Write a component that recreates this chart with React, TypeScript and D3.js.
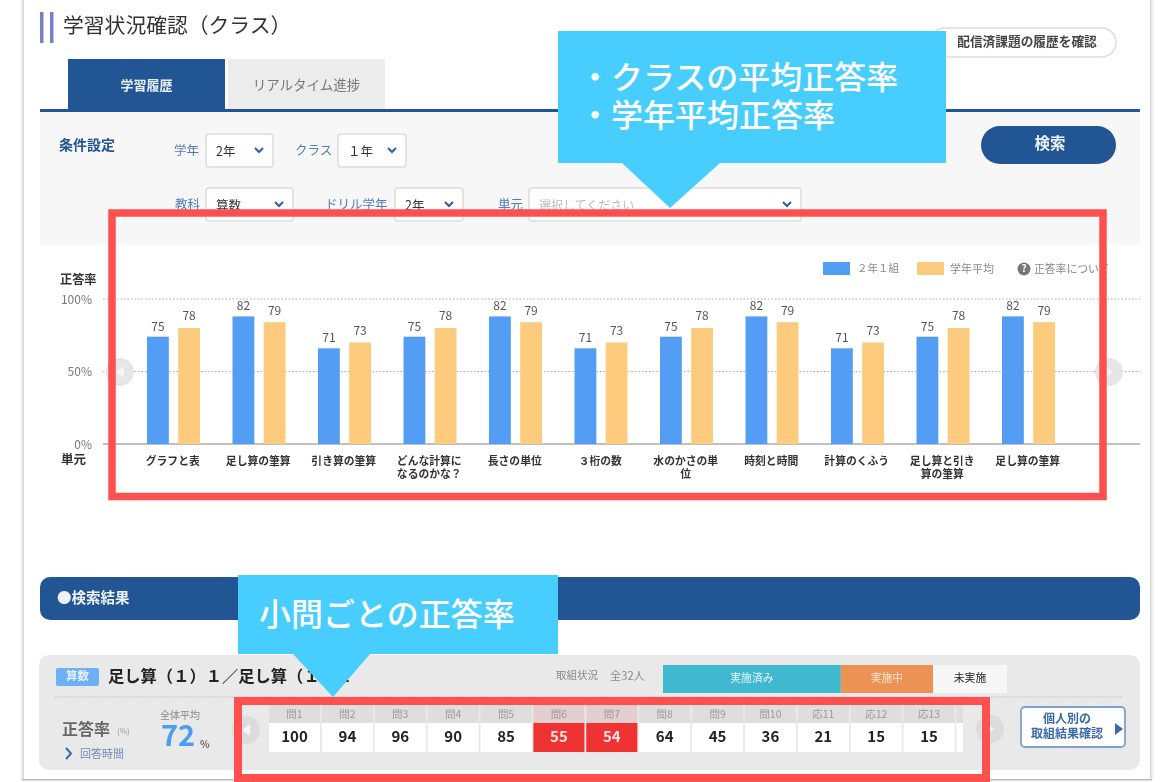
import { scaleBand, scaleLinear, stack } from "d3";

const FONT = "'Noto Sans CJK JP', 'Noto Sans', sans-serif";
const NAVY = "#205493";
const CALLOUT = "#47ceff";
const RED = "#ff5050";

// chart data. bar heights in the picture do not follow their printed labels, so both are kept
const units = [
  ["グラフと表"],
  ["足し算の筆算"],
  ["引き算の筆算"],
  ["どんな計算に", "なるのかな？"],
  ["長さの単位"],
  ["３桁の数"],
  ["水のかさの単", "位"],
  ["時刻と時間"],
  ["計算のくふう"],
  ["足し算と引き", "算の筆算"],
  ["足し算の筆算"],
];
const classBars = [74, 88, 66, 74, 88, 66, 74, 88, 66, 74, 88];
const gradeBars = [80, 84, 70, 80, 84, 70, 80, 84, 70, 80, 84];
const classLabels = [75, 82, 71, 75, 82, 71, 75, 82, 71, 75, 82];
const gradeLabels = [78, 79, 73, 78, 79, 73, 78, 79, 73, 78, 79];
const yTicks = [0, 50, 100];

const questions = ["問1", "問2", "問3", "問4", "問5", "問6", "問7", "問8", "問9", "問10", "応11", "応12", "応13", ""];
const questionRates = [100, 94, 96, 90, 85, 55, 54, 64, 45, 36, 21, 15, 15, null];
const flagged = ["問6", "問7"];

const statusNames = ["実施済み", "実施中", "未実施"];
const statusShares = [51.7, 26.8, 21.5];
const statusFill = ["#3fb8d0", "#ed9255", "#f7f7f7"];
const statusText = ["#e4f6fa", "#fbe6d6", "#222"];

const x0 = scaleBand<number>().domain(units.map((_, i) => i)).range([131, 1071.5]);
const x1 = scaleBand<string>().domain(["class", "grade"]).range([16, 69]).paddingInner(0.3);
const y = scaleLinear().domain([0, 100]).range([444, 299]);

const qx = scaleBand().domain(questions).range([269, 1007.5]).paddingInner(0.035);

const statusRow = [Object.fromEntries(statusNames.map((n, i) => [n, statusShares[i]]))];
const statusStack = stack<any>().keys(statusNames)(statusRow);
const sx = scaleLinear().domain([0, 100]).range([663, 1007]);

type SelectProps = { label: string; lx: number; x: number; w: number; yy: number; value: string; muted?: boolean };

function Select({ label, lx, x, w, yy, value, muted }: SelectProps) {
  const ax = x + w - 14;
  return (
    <g>
      <text x={lx} y={yy + 16} dominantBaseline="middle" fontSize={12.5} fill="#4d7cb8">{label}</text>
      <rect x={x} y={yy} width={w} height={33} rx={3} fill="#fff" stroke="#ddd" strokeWidth={1.5} />
      <text x={x + 10} y={yy + 17} dominantBaseline="middle" fontSize={muted ? 12 : 12.5} fill={muted ? "#bbb" : "#333"}>{value}</text>
      <path d={`M${ax - 4},${yy + 14} L${ax},${yy + 18} L${ax + 4},${yy + 14}`} fill="none" stroke="#2f5f9c" strokeWidth={2} />
    </g>
  );
}

function Arrow({ cx, cy, dir, fill }: { cx: number; cy: number; dir: number; fill: string }) {
  return (
    <g>
      <circle cx={cx} cy={cy} r={14} fill={fill} />
      <path d={`M${cx - 4 * dir},${cy - 6} L${cx + 4 * dir},${cy} L${cx - 4 * dir},${cy + 6} Z`} fill="#f6f6f6" />
    </g>
  );
}

export default function App() {
  return (
    <svg width={1165} height={782} fontFamily={FONT} style={{ position: "absolute", left: 0, top: 0, background: "#fff" }}>
      {/* the CJK font sits a bit high on a middle baseline */}
      <style>{`.nudge text { transform: translateY(1.6px); }`}</style>
      <defs>
        <filter id="soft" filterUnits="userSpaceOnUse" x={0} y={0} width={1165} height={782}>
          <feGaussianBlur stdDeviation={0.55} />
        </filter>
        <linearGradient id="shadeL" x1="0" x2="1" y1="0" y2="0">
          <stop offset="0" stopColor="#fff" />
          <stop offset="1" stopColor="#d4d4d4" />
        </linearGradient>
        <linearGradient id="shadeR" x1="0" x2="1" y1="0" y2="0">
          <stop offset="0" stopColor="#d4d4d4" />
          <stop offset="1" stopColor="#fff" />
        </linearGradient>
        <clipPath id="cells">
          <rect x={269} y={700} width={694} height={60} />
        </clipPath>
      </defs>

      <g filter="url(#soft)" className="nudge">
        {/* page card */}
        <rect x={20} y={0} width={4} height={780} fill="url(#shadeL)" />
        <rect x={1150} y={0} width={4} height={780} fill="url(#shadeR)" />
        <rect x={22} y={779} width={1130} height={1.5} fill="#bbb" />

        {/* header */}
        <rect x={40} y={12} width={3.5} height={31} fill="#7a80c8" />
        <rect x={50} y={12} width={3.5} height={31} fill="#7a80c8" />
        <text x={63} y={26} dominantBaseline="middle" fontSize={20.8} fill="#333">学習状況確認（クラス）</text>
        <rect x={930} y={28} width={186} height={29} rx={14.5} fill="#fff" stroke="#ddd" strokeWidth={1.5} />
        <text x={1027} y={41} textAnchor="middle" dominantBaseline="middle" fontSize={12.7} fontWeight={700} fill="#444">配信済課題の履歴を確認</text>

        {/* tabs */}
        <rect x={68} y={59} width={157} height={52} fill={NAVY} />
        <text x={146.5} y={84.5} textAnchor="middle" dominantBaseline="middle" fontSize={13} fontWeight={700} fill="#e8eef6">学習履歴</text>
        <rect x={228} y={59} width={157} height={50} fill="#ececec" />
        <text x={306.5} y={84.5} textAnchor="middle" dominantBaseline="middle" fontSize={13.5} fill="#777">リアルタイム進捗</text>

        {/* search panel */}
        <rect x={40} y={112} width={1100} height={133} fill="#f7f7f7" />
        <rect x={40} y={109} width={1100} height={3} fill={NAVY} />
        <text x={59} y={145} dominantBaseline="middle" fontSize={14} fontWeight={700} fill={NAVY}>条件設定</text>
        <Select label="学年" lx={174} x={206} w={67} yy={134} value="2年" />
        <Select label="クラス" lx={295} x={338} w={68} yy={134} value="１年" />
        <Select label="教科" lx={175} x={206} w={87} yy={188} value="算数" />
        <Select label="ドリル学年" lx={325} x={395} w={68} yy={188} value="2年" />
        <Select label="単元" lx={498} x={529} w={272} yy={188} value="選択してください" muted />
        <rect x={981} y={126} width={135} height={38} rx={19} fill={NAVY} />
        <text x={1050} y={143} textAnchor="middle" dominantBaseline="middle" fontSize={15.5} fontWeight={700} fill="#eef3f9">検索</text>

        {/* legend */}
        <rect x={823} y={262} width={27} height={13} fill="#529df5" />
        <text x={857} y={268} dominantBaseline="middle" fontSize={10.5} fill="#888">２年１組</text>
        <rect x={917} y={262} width={27} height={13} fill="#fccb7e" />
        <text x={950} y={268} dominantBaseline="middle" fontSize={11} fill="#888">学年平均</text>
        <circle cx={1024} cy={269} r={6.5} fill="#777" />
        <text x={1024} y={268} textAnchor="middle" dominantBaseline="middle" fontSize={10} fontWeight={700} fill="#fff">?</text>
        <text x={1034} y={268} dominantBaseline="middle" fontSize={10.8} fill="#888">正答率について</text>

        {/* y axis */}
        <text x={60} y={279} dominantBaseline="middle" fontSize={12.2} fontWeight={700} fill="#333">正答率</text>
        <text x={61} y={459} dominantBaseline="middle" fontSize={12.5} fontWeight={700} fill="#333">単元</text>
        {yTicks.map((t) => (
          <g key={t}>
            <text x={92} y={y(t)} textAnchor="end" dominantBaseline="middle" fontSize={12} fill="#777">{t}%</text>
            {t > 0 && <line x1={103} x2={1140} y1={y(t)} y2={y(t)} stroke="#aaa" strokeDasharray="1.5 2" />}
          </g>
        ))}
        <line x1={103} x2={1140} y1={y(0)} y2={y(0)} stroke="#aaa" strokeWidth={1.5} />
        <Arrow cx={120} cy={372} dir={-1} fill="#e6e6e6" />
        <Arrow cx={1109} cy={372} dir={1} fill="#e6e6e6" />

        {/* bars */}
        {units.map((lines, i) => {
          const gx = x0(i) ?? 0;
          const bw = x1.bandwidth();
          const cx = x0(i)! + x0.bandwidth() / 2;
          return (
            <g key={i}>
              <rect x={gx + x1("class")!} y={y(classBars[i])} width={bw} height={y(0) - y(classBars[i])} fill="#529df5" />
              <rect x={gx + x1("grade")!} y={y(gradeBars[i])} width={bw} height={y(0) - y(gradeBars[i])} fill="#fccb7e" />
              <text x={gx + x1("class")! + bw / 2} y={y(classBars[i]) - 11} textAnchor="middle" dominantBaseline="middle" fontSize={12} fill="#555">{classLabels[i]}</text>
              <text x={gx + x1("grade")! + bw / 2} y={y(gradeBars[i]) - 12.5} textAnchor="middle" dominantBaseline="middle" fontSize={12} fill="#555">{gradeLabels[i]}</text>
              {lines.map((l, j) => (
                <text key={j} x={cx - 1} y={460 + j * 13.5} textAnchor="middle" dominantBaseline="middle" fontSize={10.8} fontWeight={700} fill="#333">{l}</text>
              ))}
            </g>
          );
        })}

        {/* results */}
        <rect x={40} y={577} width={1100} height={43} rx={10} fill={NAVY} />
        <text x={57} y={597} dominantBaseline="middle" fontSize={14.5} fontWeight={700} fill="#eef3f9">●検索結果</text>
        <rect x={39} y={655} width={1101} height={115} rx={10} fill="#e9e9e9" />
        <rect x={56} y={668} width={43} height={18} rx={2} fill="#6cb0f5" />
        <text x={77.5} y={675.5} textAnchor="middle" dominantBaseline="middle" fontSize={11.5} fontWeight={700} fill="#e6f1fd">算数</text>
        <text x={108} y={675.5} dominantBaseline="middle" fontSize={16.3} fontWeight={700} fill="#222">足し算（１）１／足し算（１）２</text>
        <text x={556} y={675} dominantBaseline="middle" fontSize={10.5} fill="#888">取組状況</text>
        <text x={610} y={675} dominantBaseline="middle" fontSize={11.2} fill="#888">全32人</text>
        {statusStack.map((s, i) => (
          <g key={s.key}>
            <rect x={sx(s[0][0])} y={665} width={sx(s[0][1]) - sx(s[0][0])} height={28} fill={statusFill[i]} />
            <text x={(sx(s[0][0]) + sx(s[0][1])) / 2} y={677} textAnchor="middle" dominantBaseline="middle" fontSize={10.8} fill={statusText[i]}>{s.key}</text>
          </g>
        ))}
        <line x1={55} x2={1122} y1={697} y2={697} stroke="#bbb" strokeDasharray="1.5 1.5" />

        <text x={62} y={729} dominantBaseline="middle" fontSize={16} fontWeight={700} fill="#666">正答率</text>
        <text x={117} y={730} dominantBaseline="middle" fontSize={8} fill="#999">(%)</text>
        <path d="M66,748 L71,753.5 L66,759" fill="none" stroke="#3b6aa8" strokeWidth={2} />
        <text x={80} y={753} dominantBaseline="middle" fontSize={11} fill="#6f8db8">回答時間</text>
        <text x={160} y={714.5} dominantBaseline="middle" fontSize={10} fill="#888">全体平均</text>
        <text x={161} y={737} dominantBaseline="middle" fontSize={29} fontWeight={700} fill="#4d9cf2">72</text>
        <text x={200} y={744} dominantBaseline="middle" fontSize={10} fontWeight={700} fill="#666">%</text>

        <g clipPath="url(#cells)">
          {questions.map((q, i) => {
            const cx = qx(q)!;
            const bad = flagged.includes(q);
            return (
              <g key={i}>
                <rect x={cx} y={705} width={qx.bandwidth()} height={18} fill={bad ? "#e3cfcf" : "#dedede"} />
                <rect x={cx} y={723} width={qx.bandwidth()} height={29} fill={bad ? "#ef3030" : "#fff"} />
                <text x={cx + qx.bandwidth() / 2} y={713.5} textAnchor="middle" dominantBaseline="middle" fontSize={10.5} fill="#999">{q}</text>
                <text x={cx + qx.bandwidth() / 2} y={736.5} textAnchor="middle" dominantBaseline="middle" fontSize={15} fontWeight={700} fill={bad ? "#fde5e5" : "#222"}>{questionRates[i]}</text>
              </g>
            );
          })}
        </g>
        <Arrow cx={246} cy={730} dir={-1} fill="#dcdcdc" />
        <Arrow cx={990} cy={729} dir={1} fill="#dcdcdc" />

        <rect x={1021} y={707} width={104} height={40} rx={4} fill="#fff" stroke="#7ea2cc" strokeWidth={1.8} />
        <text x={1067} y={718.5} textAnchor="middle" dominantBaseline="middle" fontSize={12} fontWeight={700} fill="#3b6aa8">個人別の</text>
        <text x={1067} y={733.5} textAnchor="middle" dominantBaseline="middle" fontSize={12} fontWeight={700} fill="#3b6aa8">取組結果確認</text>
        <path d="M1115,723 L1123,729 L1115,735 Z" fill="#3b6aa8" />
      </g>

      {/* annotation overlays */}
      <rect x={112} y={213} width={991} height={283.5} fill="none" stroke={RED} strokeWidth={7.5} />
      <rect x={238} y={701} width={748} height={77} fill="none" stroke={RED} strokeWidth={8} />

      <rect x={558} y={31} width={388} height={132} fill={CALLOUT} />
      <path d="M622,163 L720,163 L670,208 Z" fill={CALLOUT} />
      <text x={579} y={80} dominantBaseline="middle" fontSize={32} fontWeight={500} fill="#fff">・クラスの平均正答率</text>
      <text x={579} y={118} dominantBaseline="middle" fontSize={32} fontWeight={500} fill="#fff">・学年平均正答率</text>

      <rect x={238} y={575} width={320} height={79} fill={CALLOUT} />
      <path d="M293,654 L370,654 L333,697 Z" fill={CALLOUT} />
      <text x={259} y={617} dominantBaseline="middle" fontSize={32} fontWeight={500} fill="#fff">小問ごとの正答率</text>
    </svg>
  );
}
